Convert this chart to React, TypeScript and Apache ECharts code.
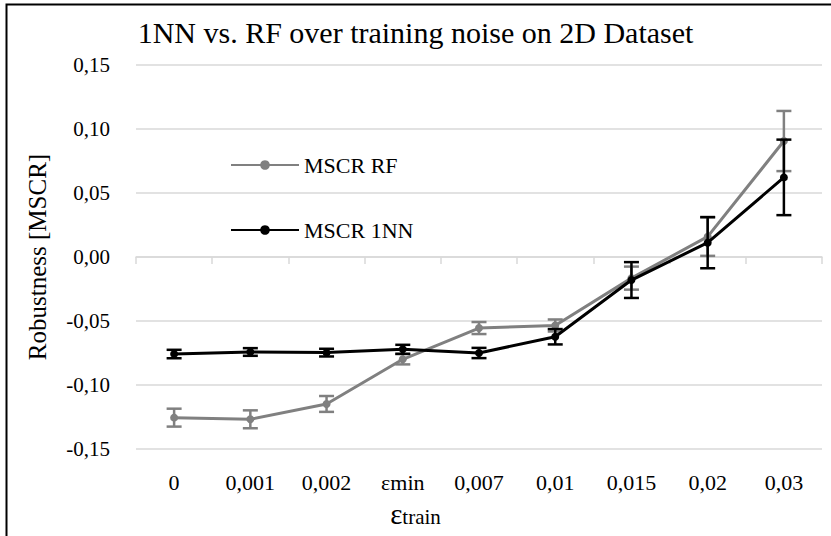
import React, { useEffect, useRef } from "react";
import * as echarts from "echarts";

const categories = ["0", "0,001", "0,002", "εmin", "0,007", "0,01", "0,015", "0,02", "0,03"];
const rfValues = [-0.1255, -0.1268, -0.1148, -0.0799, -0.0555, -0.0535, -0.0165, 0.0159, 0.0906];
const rfErrors = [0.007, 0.007, 0.0062, 0.004, 0.0047, 0.0047, 0.009, 0.015, 0.0235];
const nnValues = [-0.0758, -0.0742, -0.0747, -0.0721, -0.075, -0.0623, -0.018, 0.0112, 0.0622];
const nnErrors = [0.0033, 0.003, 0.003, 0.0035, 0.004, 0.006, 0.014, 0.02, 0.0295];

const FONT = "Times New Roman, Liberation Serif, DejaVu Serif, serif";
const GRAY = "#808080";
const BLACK = "#000000";
const GRID = "#d9d9d9";

function errorSeries(name: string, values: number[], errors: number[], color: string, width: number) {
  return {
    type: "custom",
    name,
    z: 3,
    data: values.map((v, i) => [i, v - errors[i], v + errors[i]]),
    encode: { x: 0, y: [1, 2] },
    renderItem: (params: any, api: any) => {
      const idx = api.value(0);
      const lo = api.coord([idx, api.value(1)]);
      const hi = api.coord([idx, api.value(2)]);
      const hw = 7.5;
      const style = { stroke: color, lineWidth: width };
      return {
        type: "group",
        children: [
          { type: "line", shape: { x1: lo[0], y1: lo[1], x2: hi[0], y2: hi[1] }, style },
          { type: "line", shape: { x1: lo[0] - hw, y1: lo[1], x2: lo[0] + hw, y2: lo[1] }, style },
          { type: "line", shape: { x1: hi[0] - hw, y1: hi[1], x2: hi[0] + hw, y2: hi[1] }, style },
        ],
      };
    },
  };
}

function fmt(v: number) {
  const r = Math.round(v * 100) / 100;
  const s = (Object.is(r, -0) ? 0 : r).toFixed(2);
  return s.replace(".", ",");
}

export default function App() {
  const ref = useRef<HTMLDivElement>(null);
  useEffect(() => {
    if (!ref.current) return;
    const chart = echarts.init(ref.current, undefined, { renderer: "svg" });
    chart.setOption({
      animation: false,
      backgroundColor: "#ffffff",
      textStyle: { fontFamily: FONT },
      title: {
        text: "1NN vs. RF over training noise on 2D Dataset",
        left: "center",
        top: 12,
        textStyle: { fontFamily: FONT, fontSize: 30, fontWeight: "normal", color: BLACK },
      },
      graphic: [
        {
          type: "rect",
          left: 4,
          top: 2,
          shape: { x: 0, y: 0, width: 900, height: 700 },
          style: { fill: "none", stroke: BLACK, lineWidth: 2 },
          silent: true,
        },
        {
          type: "text",
          left: "center",
          top: 499,
          style: {
            text: "{a|ε}{b|train}",
            rich: {
              a: { fontFamily: FONT, fontSize: 29, fill: BLACK },
              b: { fontFamily: FONT, fontSize: 21, fill: BLACK, padding: [6, 0, 0, 0] },
            },
          },
          silent: true,
        },
      ],
      legend: {
        data: ["MSCR RF", "MSCR 1NN"],
        orient: "vertical",
        left: 225,
        top: 149,
        itemGap: 43,
        itemWidth: 68,
        itemHeight: 12,
        textStyle: { fontFamily: FONT, fontSize: 22, color: BLACK },
      },
      grid: { left: 136, right: 9, top: 65, bottom: 87, containLabel: false },
      xAxis: {
        type: "category",
        data: categories,
        boundaryGap: true,
        axisLine: { lineStyle: { color: GRID, width: 1.5 } },
        axisTick: { show: true, length: 7, lineStyle: { color: GRID, width: 1.5 } },
        axisLabel: { fontFamily: FONT, fontSize: 22, color: BLACK, margin: 22 },
      },
      yAxis: {
        type: "value",
        min: -0.15,
        max: 0.15,
        interval: 0.05,
        name: "Robustness [MSCR]",
        nameLocation: "middle",
        nameGap: 86,
        nameTextStyle: { fontFamily: FONT, fontSize: 25, color: BLACK },
        axisLine: { show: false },
        axisTick: { show: false },
        splitLine: { lineStyle: { color: GRID, width: 1.5 } },
        axisLabel: { fontFamily: FONT, fontSize: 21, color: BLACK, margin: 26, formatter: fmt },
      },
      series: [
        {
          type: "line",
          name: "MSCR RF",
          data: rfValues,
          symbol: "circle",
          symbolSize: 8,
          z: 2,
          itemStyle: { color: GRAY },
          lineStyle: { color: GRAY, width: 3 },
        },
        errorSeries("errRF", rfValues, rfErrors, GRAY, 2.5),
        {
          type: "line",
          name: "MSCR 1NN",
          data: nnValues,
          symbol: "circle",
          symbolSize: 8,
          z: 4,
          itemStyle: { color: BLACK },
          lineStyle: { color: BLACK, width: 3 },
        },
        { ...errorSeries("errNN", nnValues, nnErrors, BLACK, 2.5), z: 5 },
      ],
    });
    return () => chart.dispose();
  }, []);
  return (
    <div
      ref={ref}
      style={{ position: "absolute", left: 0, top: 0, width: 831, height: 536 }}
    />
  );
}
